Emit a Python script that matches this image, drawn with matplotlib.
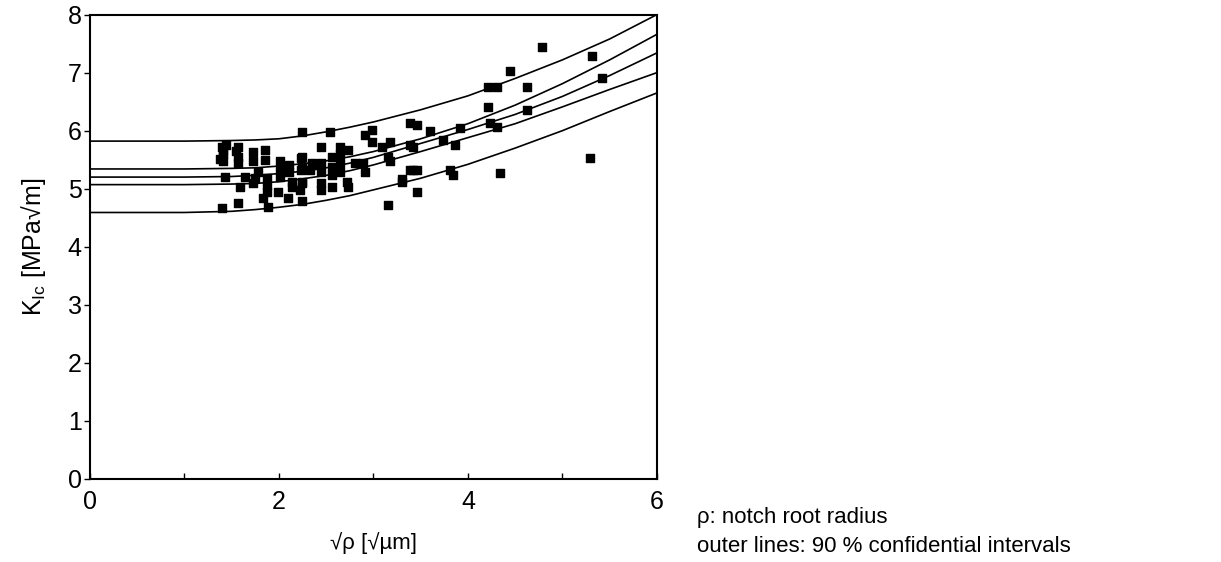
import matplotlib.pyplot as plt
from matplotlib.ticker import MultipleLocator

plt.rcParams['font.family'] = ['Liberation Sans', 'DejaVu Sans']

# measured points: sqrt(rho) [sqrt(um)] and K_Ic [MPa sqrt(m)]
sqrt_rho = [1.40, 1.41, 1.41, 1.41, 1.38, 1.44, 1.43, 1.40,
            1.57, 1.57, 1.57, 1.55, 1.59, 1.57,
            1.64, 1.72, 1.72, 1.72, 1.75, 1.78,
            1.85, 1.85, 1.87, 1.87, 1.87, 1.83, 1.88,
            2.01, 2.01, 2.01, 1.99, 2.11, 2.11, 2.14, 2.14, 2.10,
            2.23, 2.23, 2.24, 2.22, 2.24, 2.24, 2.24, 2.24, 2.24,
            2.35, 2.35, 2.33,
            2.45, 2.45, 2.45, 2.45, 2.45,
            2.54, 2.56, 2.56, 2.56, 2.56,
            2.65, 2.65, 2.65, 2.65,
            2.73, 2.72, 2.73, 2.80,
            2.89, 2.91, 2.91, 2.98, 2.99,
            3.09, 3.17, 3.17, 3.15, 3.15, 3.30,
            3.39, 3.46, 3.39, 3.42, 3.39, 3.42, 3.46, 3.30, 3.46,
            3.60, 3.74, 3.86, 3.81, 3.84, 3.92,
            4.21, 4.31, 4.21, 4.23, 4.31, 4.34, 4.44,
            4.62, 4.62, 4.78, 5.31, 5.42, 5.29]
k_ic = [5.71, 5.59, 5.47, 5.65, 5.52, 5.75, 5.21, 4.67,
        5.71, 5.55, 5.45, 5.65, 5.03, 4.76,
        5.21, 5.64, 5.47, 5.10, 5.19, 5.28,
        5.67, 5.50, 5.19, 5.07, 4.95, 4.84, 4.69,
        5.47, 5.33, 5.21, 4.95, 5.41, 5.28, 5.12, 5.03, 4.84,
        5.53, 5.33, 5.97, 4.98, 5.55, 5.38, 5.12, 5.10, 4.78,
        5.41, 5.45, 5.33,
        5.71, 5.45, 5.28, 5.10, 4.98,
        5.98, 5.55, 5.38, 5.24, 5.03,
        5.72, 5.59, 5.45, 5.29,
        5.67, 5.12, 5.03, 5.45,
        5.45, 5.29, 5.93, 6.02, 5.81,
        5.71, 5.81, 5.47, 5.55, 4.72, 5.16,
        6.14, 6.10, 5.76, 5.71, 5.33, 5.33, 5.33, 5.12, 4.95,
        6.00, 5.84, 5.76, 5.33, 5.24, 6.05,
        6.76, 6.76, 6.40, 6.14, 6.07, 5.27, 7.02,
        6.76, 6.35, 7.45, 7.28, 6.90, 5.53]

# fitted curve and confidence bounds
x_fit = [0, 1.0, 1.5, 1.75, 2.0, 2.25, 2.5, 2.75, 3.0, 3.5, 4.0, 4.5, 5.0, 5.5, 6.0]
upper90 = [5.82, 5.82, 5.83, 5.84, 5.86, 5.91, 5.98, 6.06, 6.15, 6.36, 6.60, 6.90, 7.22, 7.58, 8.00]
upper_in = [5.34, 5.34, 5.35, 5.36, 5.39, 5.43, 5.48, 5.55, 5.64, 5.86, 6.12, 6.44, 6.81, 7.22, 7.66]
center = [5.20, 5.20, 5.21, 5.23, 5.26, 5.30, 5.36, 5.44, 5.54, 5.78, 6.02, 6.28, 6.59, 6.95, 7.34]
lower_in = [5.07, 5.07, 5.08, 5.09, 5.12, 5.17, 5.23, 5.31, 5.41, 5.64, 5.88, 6.12, 6.41, 6.71, 7.00]
lower90 = [4.59, 4.59, 4.61, 4.64, 4.68, 4.73, 4.80, 4.88, 4.98, 5.18, 5.42, 5.70, 6.00, 6.33, 6.65]

fig = plt.figure(figsize=(12.21, 5.62), dpi=100)
ax = fig.add_axes([0.0737, 0.148, 0.4643, 0.826])

for c in [upper90, upper_in, center, lower_in, lower90]:
    ax.plot(x_fit, c, color='black', lw=1.2)
ax.scatter(sqrt_rho, k_ic, marker='s', s=26, color='black', zorder=3)

ax.set_xlim(0, 6); ax.set_ylim(0, 8)
ax.xaxis.set_major_locator(MultipleLocator(2))
ax.xaxis.set_minor_locator(MultipleLocator(1))
ax.yaxis.set_major_locator(MultipleLocator(1))
ax.tick_params(axis='x', which='both', direction='in', length=4, width=1, labelsize=18, pad=8)
ax.tick_params(axis='y', direction='out', length=4, width=1, labelsize=18, pad=2)
for s in ax.spines.values():
    s.set_linewidth(1.5)

ax.set_xlabel('√ρ [√µm]', fontsize=16, labelpad=13)
ax.set_ylabel('K$_\\mathregular{Ic}$ [MPa√m]', fontsize=18, labelpad=14)

fig.text(0.571, 0.08, 'ρ: notch root radius', fontsize=16, va='center')
fig.text(0.571, 0.028, 'outer lines: 90 % confidential intervals', fontsize=16, va='center')

plt.savefig('out.png', dpi=100)
